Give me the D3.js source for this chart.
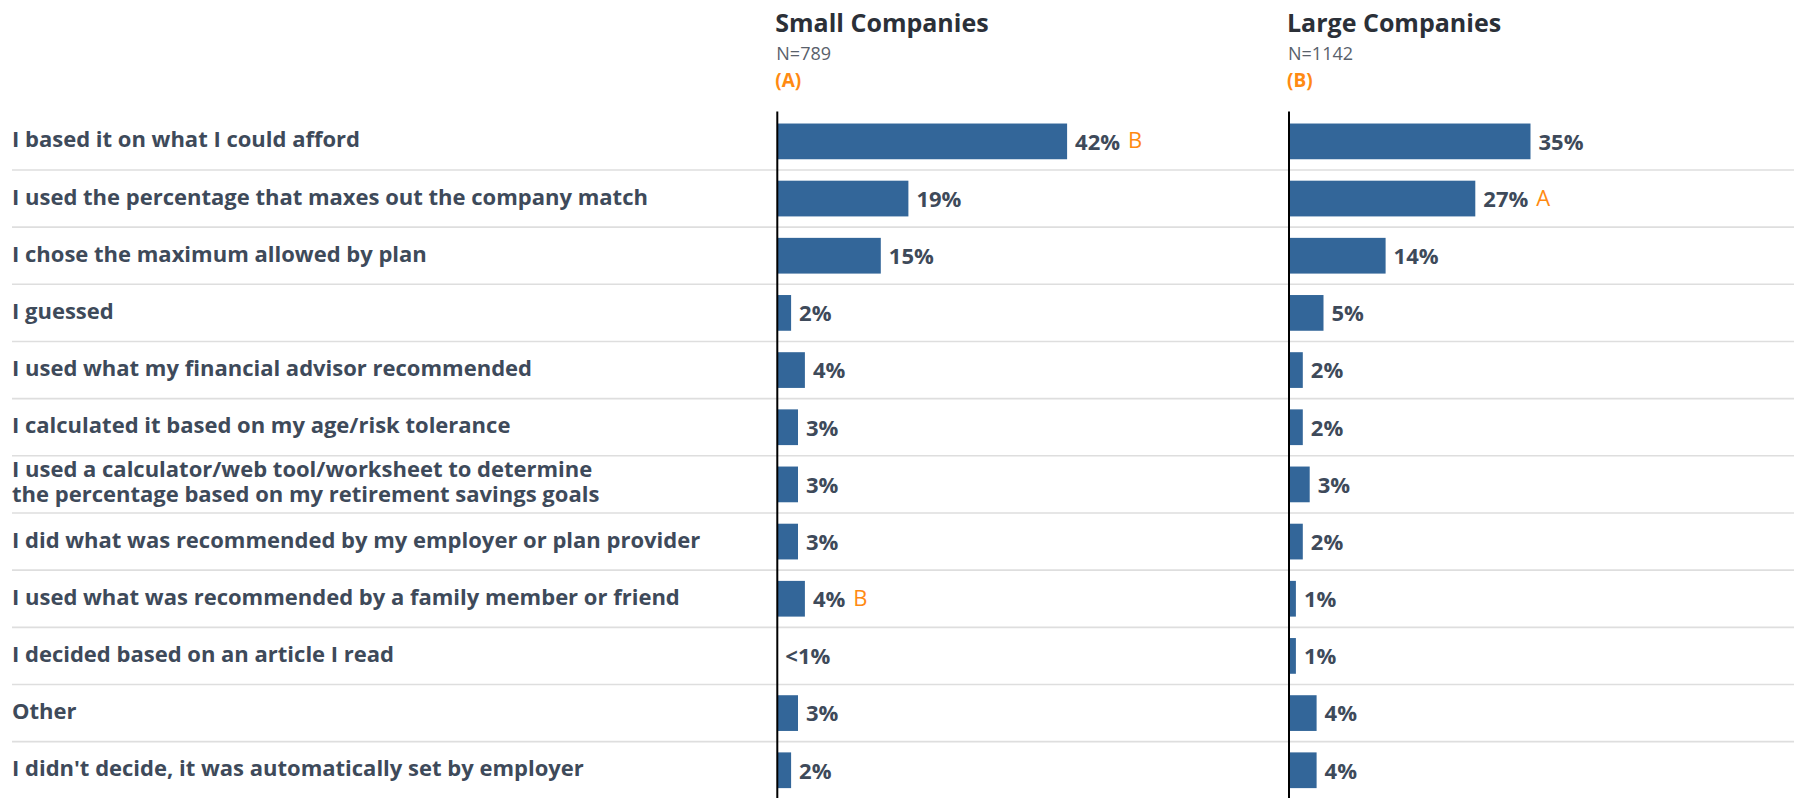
<!DOCTYPE html>
<html><head><meta charset="utf-8">
<script src="https://cdn.jsdelivr.net/npm/d3@7"></script>
<style>
html,body{margin:0;padding:0;background:#fff;}
svg{display:block;}
</style></head>
<body>
<svg id="chart" width="1794" height="798"></svg>
<script>
const categories = [
  "I based it on what I could afford",
  "I used the percentage that maxes out the company match",
  "I chose the maximum allowed by plan",
  "I guessed",
  "I used what my financial advisor recommended",
  "I calculated it based on my age/risk tolerance",
  "I used a calculator/web tool/worksheet to determine\nthe percentage based on my retirement savings goals",
  "I did what was recommended by my employer or plan provider",
  "I used what was recommended by a family member or friend",
  "I decided based on an article I read",
  "Other",
  "I didn't decide, it was automatically set by employer"
];
const smallValues = [42, 19, 15, 2, 4, 3, 3, 3, 4, 0, 3, 2];
const smallLabels = ["42%","19%","15%","2%","4%","3%","3%","3%","4%","<1%","3%","2%"];
const smallSig = ["B","","","","","","","","B","","",""];
const largeValues = [35, 27, 14, 5, 2, 2, 3, 2, 1, 1, 4, 4];
const largeLabels = ["35%","27%","14%","5%","2%","2%","3%","2%","1%","1%","4%","4%"];
const largeSig = ["","A","","","","","","","","","",""];
const panelTitles = ["Small Companies", "Large Companies"];
const panelN = ["N=789", "N=1142"];
const panelLetters = ["(A)", "(B)"];

const svg = d3.select("#chart");
const W = 1794;
const rowTop = 112.8, rowStep = 57.17;
const y = d3.scaleBand().domain(categories)
  .range([rowTop, rowTop + rowStep * categories.length])
  .paddingInner(0.375).paddingOuter(0.1875);
const x = d3.scaleLinear().domain([0, 50]).range([0, 345]);
const panelX = [777.3, 1289];

const textCol = "#3e4a5a", barCol = "#336699", orange = "#ff8a12";

// separators
svg.append("g").selectAll("line")
  .data(categories.slice(0, -1))
  .join("line")
  .attr("x1", 12).attr("x2", W)
  .attr("y1", (d, i) => rowTop + (i + 1) * rowStep)
  .attr("y2", (d, i) => rowTop + (i + 1) * rowStep)
  .attr("stroke", "#dedede").attr("stroke-width", 1.6);

// category labels
const lab = svg.append("g");
categories.forEach(c => {
  const lines = c.split("\n");
  const cy = y(c) + y.bandwidth() / 2;
  const lh = 25;
  const t = lab.append("text")
    .attr("font-family", "'Open Sans', sans-serif")
    .attr("font-weight", 700)
    .attr("font-size", 22)
    .attr("fill", textCol);
  lines.forEach((ln, j) => {
    const ty = lines.length > 1 ? cy + 5 + (j - 0.5) * lh : cy + 6;
    t.append("tspan").attr("x", 12).attr("y", ty).text(ln);
  });
});

const panels = [
  {vals: smallValues, labels: smallLabels, sig: smallSig},
  {vals: largeValues, labels: largeLabels, sig: largeSig}
];

panels.forEach((p, pi) => {
  const x0 = panelX[pi];
  const g = svg.append("g").attr("transform", `translate(${x0},0)`);
  // header
  g.append("text").attr("x", -2).attr("y", 31.5)
    .attr("font-family", "'Open Sans', sans-serif").attr("font-weight", 700)
    .attr("font-size", 25).attr("fill", "#2b3038").text(panelTitles[pi]);
  g.append("text").attr("x", -1).attr("y", 60)
    .attr("font-family", "'Open Sans', sans-serif").attr("font-weight", 400)
    .attr("font-size", 18).attr("fill", "#59616b").text(panelN[pi]);
  g.append("text").attr("x", -2).attr("y", 87)
    .attr("font-family", "'Open Sans', sans-serif").attr("font-weight", 700)
    .attr("font-size", 19).attr("fill", orange).text(panelLetters[pi]);

  // bars
  g.append("g").selectAll("rect")
    .data(categories)
    .join("rect")
    .attr("x", 0)
    .attr("y", d => y(d))
    .attr("width", (d, i) => x(p.vals[i]))
    .attr("height", y.bandwidth())
    .attr("fill", barCol);

  // value labels
  categories.forEach((c, i) => {
    const cy = y(c) + y.bandwidth() / 2;
    const t = g.append("text")
      .attr("x", x(p.vals[i]) + 8).attr("y", cy + 8.3)
      .attr("font-family", "'Open Sans', sans-serif").attr("font-weight", 700)
      .attr("font-size", 22).attr("fill", textCol)
      .text(p.labels[i]);
    if (p.sig[i]) {
      const w = t.node().getComputedTextLength();
      g.append("text")
        .attr("x", x(p.vals[i]) + 8 + w + 8).attr("y", cy + 7)
        .attr("font-family", "'Open Sans', sans-serif").attr("font-weight", 400)
        .attr("font-size", 22).attr("fill", orange)
        .text(p.sig[i]);
    }
  });

  // axis line
  g.append("line").attr("x1", 0).attr("x2", 0)
    .attr("y1", 111.5).attr("y2", 798)
    .attr("stroke", "#000").attr("stroke-width", 2);
});
</script>
</body></html>
